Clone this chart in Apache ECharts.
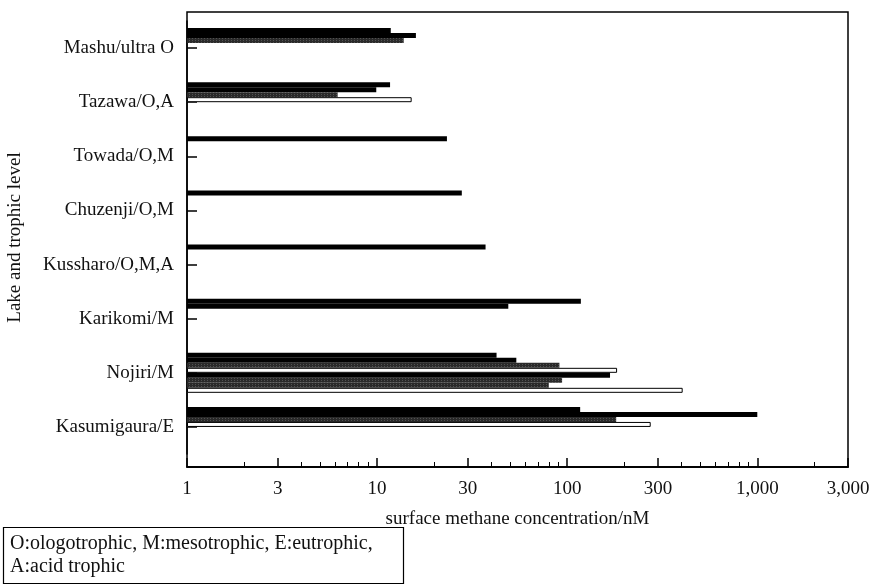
<!DOCTYPE html>
<html>
<head>
<meta charset="utf-8">
<script src="https://cdn.jsdelivr.net/npm/echarts@6/dist/echarts.min.js"></script>
<style>
  html, body { margin: 0; padding: 0; background: #fff; }
  #chart { width: 874px; height: 587px; }
</style>
</head>
<body>
<div id="chart"></div>
<script>
const lakes = ['Mashu/ultra O', 'Tazawa/O,A', 'Towada/O,M', 'Chuzenji/O,M',
  'Kussharo/O,M,A', 'Karikomi/M', 'Nojiri/M', 'Kasumigaura/E'];

// surface methane (nM), one value per sampling, top to bottom inside each lake
const mashu = [11.8, 16.0, 13.8];
const tazawa = [11.7, 9.9, 6.2, 15.2];
const towada = [23.3];
const chuzenji = [27.9];
const kussharo = [37.2];
const karikomi = [118, 49];
const nojiri = [42.5, 54, 91, 183, 168, 94, 80, 405];
const kasumigaura = [117, 1000, 181, 275];

const xTicks = [1, 3, 10, 30, 100, 300, 1000, 3000];
const xMinorTicks = [2, 4, 5, 6, 7, 8, 9, 20, 40, 50, 60, 70, 80, 90,
  200, 400, 500, 600, 700, 800, 900, 2000];

const byLake = [mashu, tazawa, towada, chuzenji, kussharo, karikomi, nojiri, kasumigaura];
const slotFill = ['black', 'black', 'dots', 'white', 'black', 'dots', 'dots', 'white'];

const serif = '"Liberation Serif", "Times New Roman", serif';

function styleFor(fill) {
  if (fill === 'white') return { color: '#fff', borderColor: '#000', borderWidth: 1 };
  if (fill === 'dots') return {
    color: '#2a2a2a',
    decal: { symbol: 'rect', symbolSize: 0.7, color: 'rgba(255,255,255,0.55)',
      dashArrayX: [1, 2], dashArrayY: [1, 1], rotation: 0 }
  };
  return { color: '#000' };
}

const series = slotFill.map((fill, i) => ({
  type: 'bar',
  xAxisIndex: 0,
  barWidth: 5,
  barGap: '0%',
  data: byLake.map(a => (a[i] === undefined ? null : a[i])),
  itemStyle: styleFor(fill),
  emphasis: { disabled: true }
}));

const axisLine = { show: true, lineStyle: { color: '#000', width: 1.5 } };

const chart = echarts.init(document.getElementById('chart'));
chart.setOption({
  animation: false,
  grid: { left: 187, right: 26, top: 21, bottom: 133, containLabel: false, outerBoundsMode: 'none' },
  xAxis: [{
    type: 'log', logBase: 10, min: 1, max: 3000,
    position: 'bottom', offset: 13,
    axisLine: axisLine,
    splitLine: { show: false },
    axisTick: { show: true, inside: true, length: 9, customValues: xTicks, lineStyle: { color: '#000', width: 1.5 } },
    axisLabel: {
      customValues: xTicks, margin: 13, color: '#111',
      fontFamily: serif, fontSize: 19,
      formatter: v => Math.round(v).toLocaleString('en-US')
    },
    name: 'surface methane concentration/nM',
    nameLocation: 'middle', nameGap: 43,
    nameTextStyle: { fontFamily: serif, fontSize: 19, color: '#111' }
  }, {
    type: 'log', logBase: 10, min: 1, max: 3000,
    position: 'bottom', offset: 13,
    axisLine: axisLine,
    splitLine: { show: false },
    axisTick: { show: true, inside: true, length: 5, customValues: xMinorTicks, lineStyle: { color: '#000', width: 1 } },
    axisLabel: { show: false }
  }],
  yAxis: {
    type: 'category', data: lakes, inverse: true,
    axisLine: axisLine,
    axisTick: { show: true, inside: true, length: 10, alignWithLabel: true, lineStyle: { color: '#000', width: 1.5 } },
    axisLabel: { margin: 13, color: '#111', fontFamily: serif, fontSize: 19 },
    name: 'Lake and trophic level',
    nameLocation: 'middle', nameGap: 162, nameRotate: 90,
    nameTextStyle: { fontFamily: serif, fontSize: 19, color: '#111' }
  },
  series: series,
  graphic: [{
    type: 'rect', silent: true,
    shape: { x: 187, y: 12, width: 661, height: 455 },
    style: { fill: 'none', stroke: '#000', lineWidth: 1.5 }
  }, {
    type: 'rect', silent: true,
    shape: { x: 3.5, y: 527.5, width: 400, height: 56 },
    style: { fill: '#fff', stroke: '#000', lineWidth: 1.2 }
  }, {
    type: 'text', left: 10, top: 532, silent: true,
    style: {
      text: 'O:ologotrophic, M:mesotrophic, E:eutrophic,\nA:acid trophic',
      font: '20px ' + serif, fill: '#111', lineHeight: 23
    }
  }]
});
</script>
</body>
</html>
